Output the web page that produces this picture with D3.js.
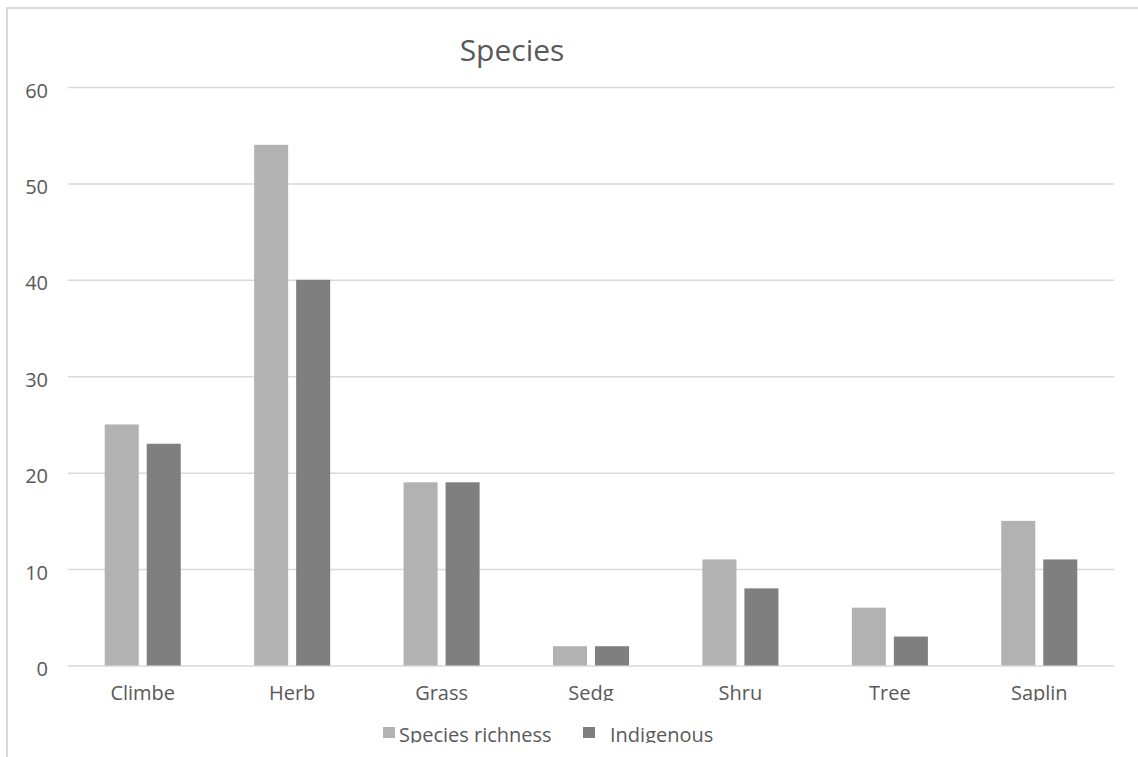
<!DOCTYPE html>
<html lang="en">
<head>
    <meta charset="UTF-8">
    <title>Species</title>
    <style>
        body { margin: 0; background: #fff; }
        text { font-family: "Open Sans", sans-serif; fill: #595959; }
    </style>
</head>
<body>
<script src="https://d3js.org/d3.v7.min.js"></script>
<script>
    // data
    var categories = ["Climbe", "Herb", "Grass", "Sedg", "Shru", "Tree", "Saplin"];
    var seriesNames = ["Species richness", "Indigenous"];
    var richness = [25, 54, 19, 2, 11, 6, 15];
    var indigenous = [23, 40, 19, 2, 8, 3, 11];
    var yTicks = [0, 10, 20, 30, 40, 50, 60];
    var colors = ["#b2b2b2", "#7f7f7f"];

    var svg = d3.select("body")
                .append("svg")
                .attr("width", 1138)
                .attr("height", 757);

    svg.append("rect")
        .attr("width", 1138)
        .attr("height", 757)
        .attr("fill", "#fff");

    // chart border (right and bottom run off the picture)
    svg.append("rect")
        .attr("x", 7)
        .attr("y", 8)
        .attr("width", 1200)
        .attr("height", 800)
        .attr("fill", "none")
        .attr("stroke", "#d9d9d9")
        .attr("stroke-width", 2);

    // clip boxes for the cut-off labels
    var defs = svg.append("defs");
    defs.append("clipPath").attr("id", "catClip")
        .append("rect").attr("x", 0).attr("y", 0).attr("width", 1138).attr("height", 701);
    defs.append("clipPath").attr("id", "legClip")
        .append("rect").attr("x", 0).attr("y", 0).attr("width", 1138).attr("height", 743);

    var left = 68, right = 1114;

    var y = d3.scaleLinear()
              .domain([0, 60])
              .range([665.5, 87]);

    var x0 = d3.scaleBand()
               .domain(categories)
               .range([left, right])
               .paddingInner(0.491)
               .paddingOuter(0.2457);

    var x1 = d3.scaleBand()
               .domain(seriesNames)
               .range([0, x0.bandwidth()])
               .paddingInner(0.19);

    // gridlines + y labels
    var yAxis = svg.append("g")
        .attr("transform", "translate(" + left + ",0)")
        .call(d3.axisLeft(y).tickValues(yTicks).tickSizeInner(-(right - left)).tickSizeOuter(0).tickPadding(20));
    yAxis.select(".domain").remove();
    yAxis.selectAll("line")
        .attr("stroke", "#d9d9d9")
        .attr("stroke-width", 1.5);
    yAxis.selectAll("text")
        .attr("dy", "0.5em")
        .style("font-size", "20px")
        .attr("fill", "#595959");

    // bars
    var rows = categories.map(function (c, i) {
        return { cat: c, vals: [richness[i], indigenous[i]] };
    });

    var groups = svg.selectAll("g.grp")
        .data(rows)
        .enter()
        .append("g")
        .attr("class", "grp")
        .attr("transform", function (d) { return "translate(" + x0(d.cat) + ",0)"; });

    groups.selectAll("rect")
        .data(function (d) {
            return d.vals.map(function (v, j) { return { name: seriesNames[j], v: v, j: j }; });
        })
        .enter()
        .append("rect")
        .attr("x", function (d) { return x1(d.name); })
        .attr("y", function (d) { return y(d.v); })
        .attr("width", x1.bandwidth())
        .attr("height", function (d) { return y(0) - y(d.v); })
        .attr("fill", function (d) { return colors[d.j]; });

    // category labels
    var xAxis = svg.append("g")
        .attr("clip-path", "url(#catClip)")
        .append("g")
        .attr("transform", "translate(0," + y(0) + ")")
        .call(d3.axisBottom(x0).tickSize(0).tickPadding(20));
    xAxis.select(".domain").remove();
    xAxis.selectAll("text")
        .style("font-size", "20px")
        .attr("fill", "#595959");

    // title
    svg.append("text")
        .attr("x", 512)
        .attr("y", 61)
        .attr("text-anchor", "middle")
        .style("font-size", "30px")
        .text("Species");

    // legend
    var legendX = [383, 583];
    var legendTextX = [399, 610];
    var legend = svg.append("g").attr("clip-path", "url(#legClip)");
    seriesNames.forEach(function (name, i) {
        legend.append("rect")
            .attr("x", legendX[i])
            .attr("y", 727)
            .attr("width", 12)
            .attr("height", 11)
            .attr("fill", colors[i]);
        legend.append("text")
            .attr("x", legendTextX[i])
            .attr("y", 742)
            .style("font-size", "20px")
            .text(name);
    });
</script>
</body>
</html>
